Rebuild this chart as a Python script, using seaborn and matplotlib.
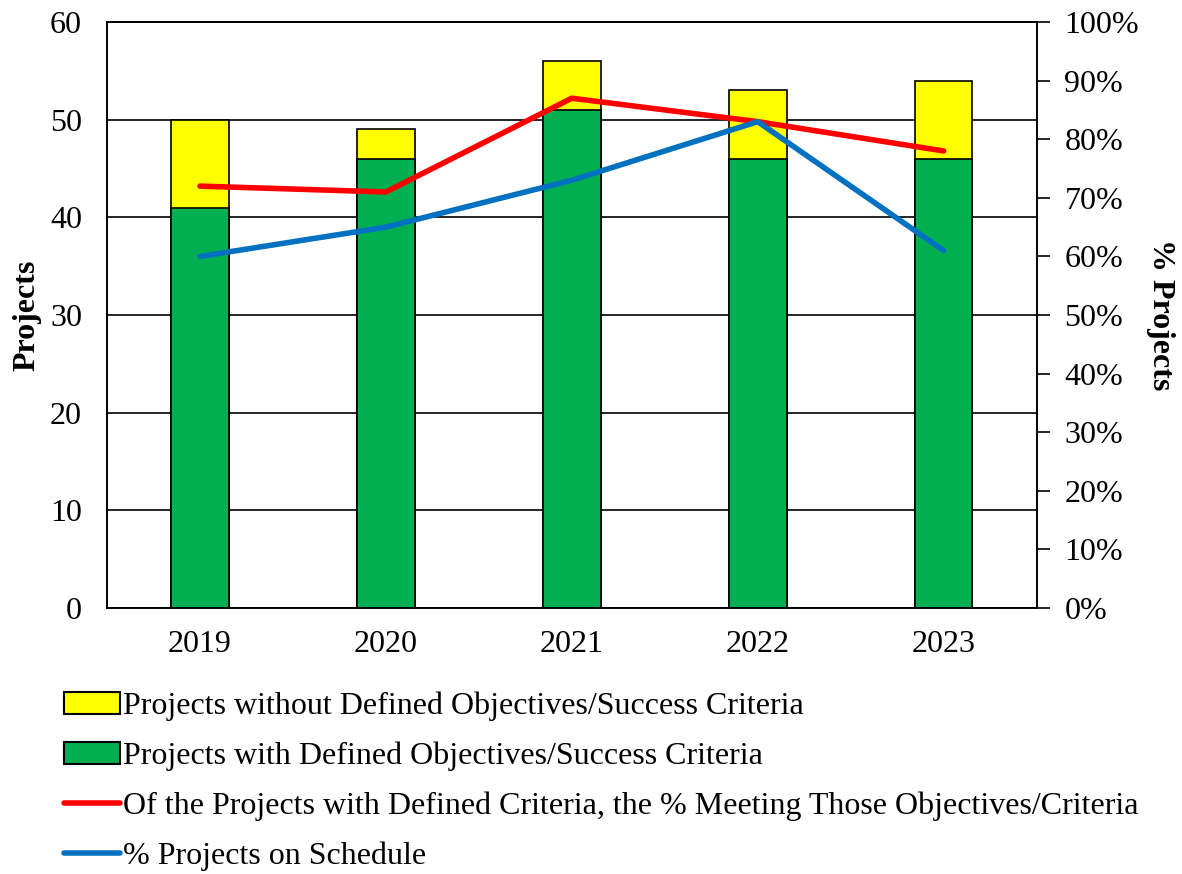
import matplotlib
matplotlib.use('Agg')
import matplotlib.pyplot as plt
import seaborn as sns
import pandas as pd
from matplotlib.patches import Patch
from matplotlib.lines import Line2D

years = ['2019', '2020', '2021', '2022', '2023']
with_criteria = [41, 46, 51, 46, 46]
total_projects = [50, 49, 56, 53, 54]
pct_meeting = [72, 71, 87, 83, 78]
pct_on_schedule = [60, 65, 73, 83, 61]

df = pd.DataFrame({
    'Year': years,
    'with': with_criteria,
    'total': total_projects,
    'meeting': [v / 100 for v in pct_meeting],
    'schedule': [v / 100 for v in pct_on_schedule],
})

sns.set_theme(style='white')
plt.rcParams['font.family'] = ['Liberation Serif', 'DejaVu Serif']
plt.rcParams['text.color'] = 'black'
plt.rcParams['xtick.color'] = 'black'
plt.rcParams['ytick.color'] = 'black'
plt.rcParams['axes.labelcolor'] = 'black'

fs = 23

fig = plt.figure(figsize=(11.82, 8.74), dpi=100)
ax = fig.add_axes([0.0905, 0.3043, 0.7865, 0.6705])

# stacked bars: total drawn first (yellow), green over its lower part
sns.barplot(data=df, x='Year', y='total', color='#FFFF00', width=0.31,
            edgecolor='black', linewidth=1.2, saturation=1, ax=ax)
sns.barplot(data=df, x='Year', y='with', color='#00B050', width=0.31,
            edgecolor='black', linewidth=1.2, saturation=1, ax=ax)

ax.set_ylim(0, 60)
ax.set_yticks(range(0, 61, 10))
ax.set_xlim(-0.5, 4.5)
ax.yaxis.grid(True, color='black', linewidth=1.2)
ax.set_axisbelow(True)
ax.set_xlabel('')
ax.set_ylabel('Projects', fontsize=fs, fontweight='bold', labelpad=6)
ax.tick_params(axis='y', labelsize=fs, length=0, pad=18)
ax.tick_params(axis='x', labelsize=fs, length=0, pad=16)
for s in ax.spines.values():
    s.set_color('black')
    s.set_linewidth(1.2)

ax2 = ax.twinx()
sns.lineplot(x=range(len(years)), y=df['meeting'], color='#FF0000', linewidth=4, ax=ax2)
sns.lineplot(x=range(len(years)), y=df['schedule'], color='#0070C0', linewidth=4, ax=ax2)
ax2.set_ylim(0, 1)
ax2.set_yticks([i / 10 for i in range(11)])
ax2.set_yticklabels([f'{i * 10}%' for i in range(11)])
ax2.tick_params(axis='y', labelsize=fs, length=9, width=1.2, direction='out',
                color='black', pad=11, right=True)
ax2.set_ylabel('% Projects', fontsize=fs, fontweight='bold', rotation=270, labelpad=26)
for s in ax2.spines.values():
    s.set_color('black')
    s.set_linewidth(1.2)

handles = [
    Patch(facecolor='#FFFF00', edgecolor='black', linewidth=1.5),
    Patch(facecolor='#00B050', edgecolor='black', linewidth=1.5),
    Line2D([0], [0], color='#FF0000', linewidth=4),
    Line2D([0], [0], color='#0070C0', linewidth=4),
]
labels = [
    'Projects without Defined Objectives/Success Criteria',
    'Projects with Defined Objectives/Success Criteria',
    'Of the Projects with Defined Criteria, the % Meeting Those Objectives/Criteria',
    '% Projects on Schedule',
]
fig.legend(handles, labels, loc='upper left', bbox_to_anchor=(0.043, 0.223),
           frameon=False, fontsize=fs, handlelength=1.75, handleheight=0.7,
           handletextpad=0.1, labelspacing=0.64, borderaxespad=0)

fig.savefig('out.png', dpi=100)
